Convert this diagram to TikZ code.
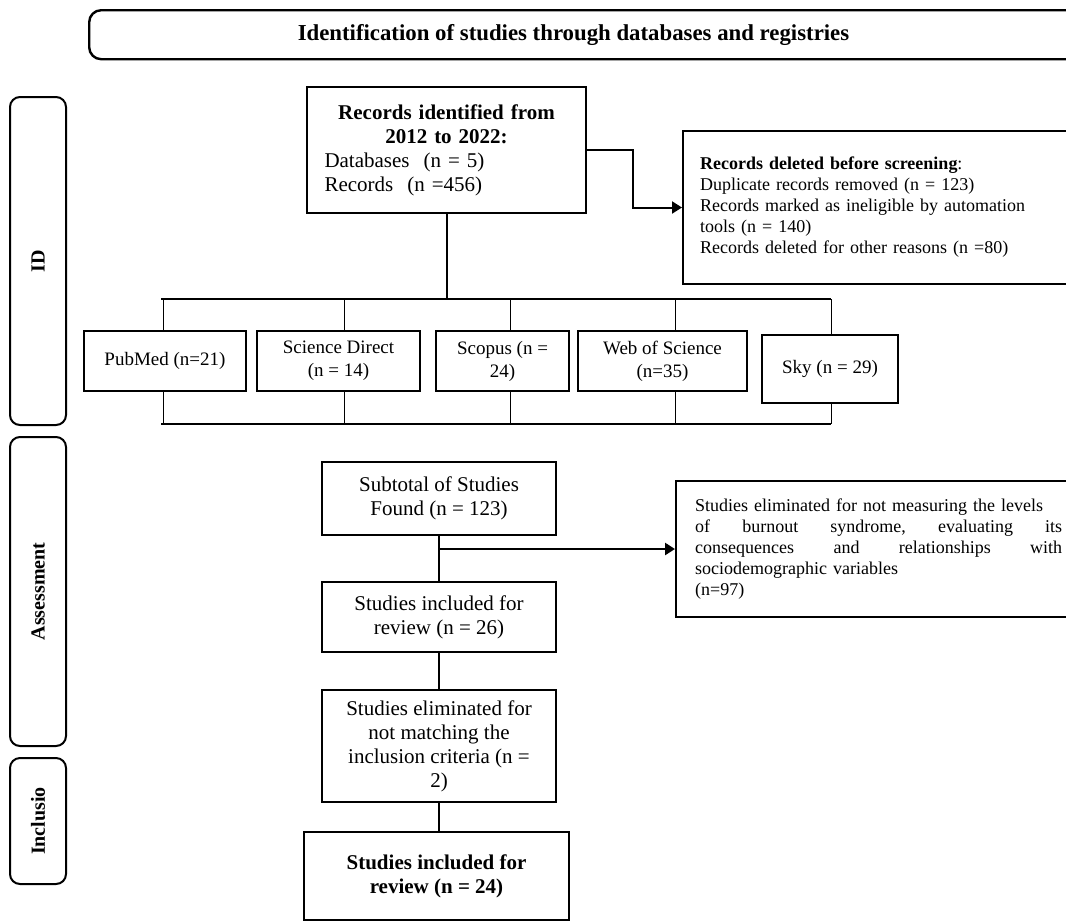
\documentclass[tikz,border=0pt]{standalone}
\usepackage{fontspec}
\setmainfont{Liberation Serif}
\usetikzlibrary{arrows.meta}

\tikzset{
  box/.style={draw, line width=1.2pt, align=center, inner sep=2pt, font=\fontsize{10.5}{12}\selectfont},
  row/.style={box, minimum height=30pt, font=\fontsize{9.5}{11.5}\selectfont},
  note/.style={box, anchor=west, align=left, font=\fontsize{9}{10.5}\selectfont},
  lane/.style={draw, line width=1pt, rounded corners=5pt, rotate=90, minimum height=28pt, font=\fontsize{10}{12}\selectfont\bfseries},
  link/.style={line width=1pt},
  bar/.style={line width=1.4pt},
  tick/.style={line width=0.5pt},
  tip/.style={-{Triangle[length=5pt,width=6pt]}}
}

\begin{document}
\begin{tikzpicture}[x=0.5pt,y=-0.5pt]
        \useasboundingbox (0,0) rectangle (1066,923);
        \clip (0,0) rectangle (1066,923);

        % banner and lanes
        \node[draw, line width=1.2pt, rounded corners=6pt, anchor=north west, minimum width=510pt, minimum height=24.5pt] (head) at (88,9) {};
        \node[font=\fontsize{11.4}{13}\selectfont\bfseries] (title) at (573.5,35) {Identification of studies through databases and registries};
        \node[lane, minimum width=164pt] (idlane) at (38,261) {ID};
        \node[lane, minimum width=154.5pt] (aslane) at (38,591.5) {Assessment};
        \node[lane, minimum width=63pt] (inlane) at (38,821) {Inclusio};

        % identification
        \node[box, minimum width=139.5pt, minimum height=63pt, text width=122pt, align=left] (rec) at (446.5,150) {{\centering\bfseries Records identified from\\2012 to 2022:\par}Databases\ \ (n = 5)\\Records\ \ (n =456)};
        \node[note, minimum width=199pt, minimum height=76.5pt, text width=182pt, inner xsep=8.5pt] (del) at (682,207.5) {\textbf{Records deleted before screening}:\\Duplicate records removed (n = 123)\\Records marked as ineligible by automation\\tools (n = 140)\\Records deleted for other reasons (n =80)};
        \draw[link, tip] (rec.east) -- ++(46,0) |- (del.west);

        \coordinate (tl) at (161,299);
        \coordinate (tr) at (831,299);
        \coordinate (bl) at (161,424);
        \coordinate (br) at (831,424);
        \draw[bar] (tl) -- (tr);
        \draw[bar] (bl) -- (br);
        \draw[link] (rec.south) -- (rec.south |- tl);

        \node[row, minimum width=81pt] (pub) at (165,361) {PubMed (n=21)};
        \node[row, minimum width=81.5pt] (sci) at (338.5,361) {Science Direct\\(n = 14)};
        \node[row, minimum width=66.5pt] (sco) at (502.5,361) {Scopus (n =\\24)};
        \node[row, minimum width=84.5pt] (wos) at (662.5,361) {Web of Science\\(n=35)};
        \node[row, minimum width=68pt, minimum height=34pt] (sky) at (830,369) {Sky (n = 29)};
        \foreach \n/\x in {pub/163,sci/344,sco/510,wos/675,sky/831} {
            \draw[tick] (\x,299) -- (\x,299 |- \n.north);
            \draw[tick] (\x,424 |- \n.south) -- (\x,424);
        }

        % assessment and inclusion
        \node[box, minimum width=117pt, minimum height=36.5pt] (sub) at (439,498.5) {Subtotal of Studies\\Found (n = 123)};
        \node[box, minimum width=117pt, minimum height=35pt] (inc) at (439,617) {Studies included for\\review (n = 26)};
        \node[box, minimum width=117pt, minimum height=56pt] (elim) at (439,746) {Studies eliminated for\\not matching the\\inclusion criteria (n =\\2)};
        \node[box, minimum width=132.5pt, minimum height=44pt, font=\fontsize{10.5}{12}\selectfont\bfseries] (fin) at (436.5,876) {Studies included for\\review (n = 24)};
        \node[note, minimum width=202.5pt, minimum height=68pt, text width=183.5pt, inner xsep=9.5pt] (exc) at (675,549) {Studies eliminated for not measuring the levels\\of\hfill burnout\hfill syndrome,\hfill evaluating\hfill its\\consequences\hfill and\hfill relationships\hfill with\\sociodemographic variables\\(n=97)};

        \draw[link] (sub) -- (inc);
        \draw[link] (inc) -- (elim);
        \draw[link] (elim.south) -- (elim.south |- fin.north);
        \draw[link, line width=1.4pt, tip] (sub.south |- exc.west) -- (exc.west);
    \end{tikzpicture}
\end{document}
